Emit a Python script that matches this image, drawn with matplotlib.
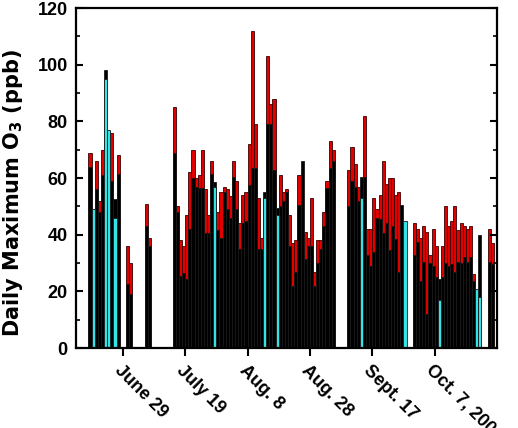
import numpy as np
import matplotlib
matplotlib.use("Agg")
import matplotlib.pyplot as plt

nan = np.nan

# Day index 0 = June 14, 2006 (axis runs June 14 .. Oct 27, 2006)
start_label = "June 14, 2006"
tick_days = [15, 35, 55, 75, 95, 115]
tick_labels = ["June 29", "July 19", "Aug. 8", "Aug. 28", "Sept. 17", "Oct. 7, 2006"]

# Daily maximum O3 (ppb), one value per day (nan = no data)
red_max = [
    nan, nan, nan, nan, 69, nan, 66, 52, 70, nan,          # d0-9
    nan, 76, nan, 68, nan, nan, 36, 30, nan, nan,          # d10-19
    nan, nan, 51, 39, nan, nan, nan, nan, nan, nan,        # d20-29
    nan, 85, 50, 38, 36, 47, 62, 70, 60, 61,               # d30-39
    70, 56, 47, 66, nan, 48, 55, 57, 56, 53.5,             # d40-49
    66, 59, 44, 54, 55, 72, 112, 79, 53, 39,               # d50-59
    nan, 103, 86, 88, nan, 61, 55, 56, 47, 37,             # d60-69
    38, 61, nan, 41, 39, 53, 27, 38, 38, 48,               # d70-79
    59, 73, 70, nan, nan, nan, nan, 63, 71, 65,            # d80-89
    57, nan, 82, 42, 42, 53, 49, 54, 66, 58,               # d90-99
    60, 60, 54, 55, nan, nan, nan, nan, 44, 42,            # d100-109
    39, 43, 41, 33, 42, 36, nan, 36, 50, 43,               # d110-119
    45, 50, 41.5, 44, 43, 42, 43, 26, nan, nan,            # d120-129
    nan, nan, 42, 37, nan,                                 # d130-134
]
black_max = [
    nan, nan, nan, nan, 64, nan, 56, 48, 61, 98,
    nan, 59, 52.5, 61.5, nan, nan, 22.5, 19, nan, nan,
    nan, nan, 43, 36, nan, nan, nan, nan, nan, nan,
    nan, 69, 48, 25.5, 26.5, 24.5, 42, 60, 57, 56.5,
    56.5, 40.5, 40.5, 61.5, 58.5, 41.5, 39, 55, 49, 46,
    60.5, 49, 35, 44, 45, 57.5, 63.5, 63.5, 35, 35,
    55, 79, 79, 63, 49.5, 50, 52, 55, 36, 22,
    27, 50.5, 66, 31.5, 36, 36, 22, 30, 35, 43,
    56.5, 63.5, 66, nan, nan, nan, nan, 50, 59, 57,
    52, 60.5, 60.5, 33, 29, 34, 46, 45.5, 40.5, 44,
    34.5, 43, 38.5, 27, 50.5, nan, nan, nan, 33, 37.5,
    23.5, 30.5, 12, 30, 29, 25, 24.5, 25, 30, 29,
    29.5, 27, 30.5, 30, 32, 30.5, 32, 23.5, nan, 40,
    nan, nan, 30.5, 29.5, nan,
]
cyan_max = [
    nan, nan, nan, nan, nan, 49, nan, nan, nan, 95,
    77, nan, 46, nan, nan, nan, nan, nan, nan, nan,
    nan, nan, nan, nan, nan, nan, nan, nan, nan, nan,
    nan, nan, nan, nan, nan, nan, nan, nan, nan, nan,
    nan, nan, nan, nan, 57, nan, nan, nan, nan, nan,
    nan, nan, nan, nan, nan, nan, nan, nan, nan, nan,
    53, nan, nan, nan, 47, nan, nan, nan, nan, nan,
    nan, nan, nan, nan, nan, nan, nan, nan, nan, nan,
    nan, nan, nan, nan, nan, nan, nan, nan, nan, nan,
    nan, 53, nan, nan, nan, nan, nan, nan, nan, nan,
    nan, nan, nan, nan, nan, 45, nan, nan, nan, nan,
    nan, nan, nan, nan, nan, nan, 17, nan, nan, nan,
    nan, nan, nan, nan, nan, nan, nan, nan, 21, 18,
    nan, nan, nan, nan, nan,
]

days = np.arange(len(red_max))

plt.rcParams['font.family'] = ['Liberation Sans', 'DejaVu Sans']
plt.rcParams['font.weight'] = 'bold'

fig = plt.figure(figsize=(5.18, 4.28), dpi=100)
ax = fig.add_axes([0.1467, 0.1869, 0.8128, 0.7944])

kw = dict(width=1.0, align='edge', linewidth=0.6)
ax.bar(days, np.array(red_max, float), color='#E00000', edgecolor='#3a0000', **kw)
ax.bar(days, np.array(black_max, float), color='black', edgecolor='#1a1a1a', **kw)
ax.bar(days, np.array(cyan_max, float), color='#33E3E6', edgecolor='#1a1a1a', **kw)

ax.set_xlim(0, 135)
ax.set_ylim(0, 120)
ax.set_yticks(np.arange(0, 121, 20))
ax.set_yticks(np.arange(10, 120, 20), minor=True)
ax.set_xticks(tick_days)
ax.set_xticklabels(tick_labels, rotation=-45, ha='left', va='top',
                   rotation_mode='anchor', fontsize=13, fontweight='bold')
for lab in ax.get_yticklabels():
    lab.set_fontsize(13)
    lab.set_fontweight('bold')

ax.tick_params(axis='y', which='both', direction='in', left=True, right=True, pad=6)
ax.tick_params(axis='y', which='major', length=5, width=1.5)
ax.tick_params(axis='y', which='minor', length=3, width=1.2)
ax.tick_params(axis='x', which='major', direction='out', length=6, width=1.5,
               top=False, pad=4)
for sp in ax.spines.values():
    sp.set_linewidth(1.6)

ax.set_ylabel("Daily Maximum O$_3$ (ppb)", fontsize=15, fontweight='bold',
              family=['DejaVu Sans'])
ax.yaxis.set_label_coords(-0.12, 0.455)

fig.savefig("out.png", dpi=100)
